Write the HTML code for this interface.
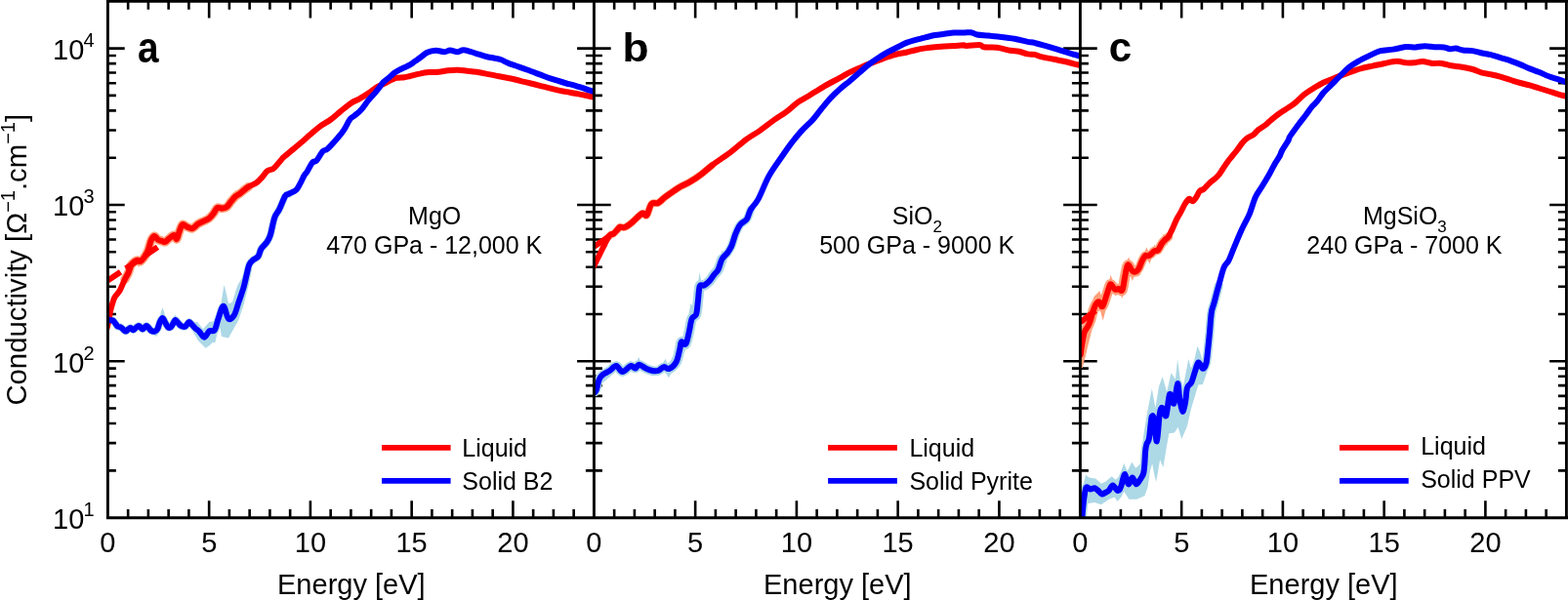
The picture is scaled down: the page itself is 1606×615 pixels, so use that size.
<!DOCTYPE html><html><head><meta charset="utf-8"><style>html,body{margin:0;padding:0;background:#fff;}svg{display:block;}</style></head><body>
<svg width="1606" height="615" viewBox="0 0 1606 615" font-family="&quot;Liberation Sans&quot;, Arial, Helvetica, sans-serif">
<rect width="1606" height="615" fill="#fff"/>
<defs>
<clipPath id="cp0"><rect x="110.4" y="1.3" width="498" height="529.3000000000001"/></clipPath>
<clipPath id="cp1"><rect x="608.4" y="1.3" width="498" height="529.3000000000001"/></clipPath>
<clipPath id="cp2"><rect x="1106.4" y="1.3" width="498" height="529.3000000000001"/></clipPath>
</defs>
<path d="M131.15,530.6 V522.10 M131.15,1.3 V9.80 M151.90,530.6 V522.10 M151.90,1.3 V9.80 M172.65,530.6 V522.10 M172.65,1.3 V9.80 M193.40,530.6 V522.10 M193.40,1.3 V9.80 M214.15,530.6 V513.30 M214.15,1.3 V18.60 M234.90,530.6 V522.10 M234.90,1.3 V9.80 M255.65,530.6 V522.10 M255.65,1.3 V9.80 M276.40,530.6 V522.10 M276.40,1.3 V9.80 M297.15,530.6 V522.10 M297.15,1.3 V9.80 M317.90,530.6 V513.30 M317.90,1.3 V18.60 M338.65,530.6 V522.10 M338.65,1.3 V9.80 M359.40,530.6 V522.10 M359.40,1.3 V9.80 M380.15,530.6 V522.10 M380.15,1.3 V9.80 M400.90,530.6 V522.10 M400.90,1.3 V9.80 M421.65,530.6 V513.30 M421.65,1.3 V18.60 M442.40,530.6 V522.10 M442.40,1.3 V9.80 M463.15,530.6 V522.10 M463.15,1.3 V9.80 M483.90,530.6 V522.10 M483.90,1.3 V9.80 M504.65,530.6 V522.10 M504.65,1.3 V9.80 M525.40,530.6 V513.30 M525.40,1.3 V18.60 M546.15,530.6 V522.10 M546.15,1.3 V9.80 M566.90,530.6 V522.10 M566.90,1.3 V9.80 M587.65,530.6 V522.10 M587.65,1.3 V9.80 M110.4,482.34 H118.90 M608.4,482.34 H599.90 M110.4,454.10 H118.90 M608.4,454.10 H599.90 M110.4,434.07 H118.90 M608.4,434.07 H599.90 M110.4,418.53 H118.90 M608.4,418.53 H599.90 M110.4,405.84 H118.90 M608.4,405.84 H599.90 M110.4,395.11 H118.90 M608.4,395.11 H599.90 M110.4,385.81 H118.90 M608.4,385.81 H599.90 M110.4,377.61 H118.90 M608.4,377.61 H599.90 M110.4,370.27 H127.70 M608.4,370.27 H591.10 M110.4,322.01 H118.90 M608.4,322.01 H599.90 M110.4,293.77 H118.90 M608.4,293.77 H599.90 M110.4,273.74 H118.90 M608.4,273.74 H599.90 M110.4,258.20 H118.90 M608.4,258.20 H599.90 M110.4,245.51 H118.90 M608.4,245.51 H599.90 M110.4,234.78 H118.90 M608.4,234.78 H599.90 M110.4,225.48 H118.90 M608.4,225.48 H599.90 M110.4,217.28 H118.90 M608.4,217.28 H599.90 M110.4,209.94 H127.70 M608.4,209.94 H591.10 M110.4,161.68 H118.90 M608.4,161.68 H599.90 M110.4,133.44 H118.90 M608.4,133.44 H599.90 M110.4,113.41 H118.90 M608.4,113.41 H599.90 M110.4,97.87 H118.90 M608.4,97.87 H599.90 M110.4,85.18 H118.90 M608.4,85.18 H599.90 M110.4,74.45 H118.90 M608.4,74.45 H599.90 M110.4,65.15 H118.90 M608.4,65.15 H599.90 M110.4,56.95 H118.90 M608.4,56.95 H599.90 M110.4,49.61 H127.70 M608.4,49.61 H591.10 M629.15,530.6 V522.10 M629.15,1.3 V9.80 M649.90,530.6 V522.10 M649.90,1.3 V9.80 M670.65,530.6 V522.10 M670.65,1.3 V9.80 M691.40,530.6 V522.10 M691.40,1.3 V9.80 M712.15,530.6 V513.30 M712.15,1.3 V18.60 M732.90,530.6 V522.10 M732.90,1.3 V9.80 M753.65,530.6 V522.10 M753.65,1.3 V9.80 M774.40,530.6 V522.10 M774.40,1.3 V9.80 M795.15,530.6 V522.10 M795.15,1.3 V9.80 M815.90,530.6 V513.30 M815.90,1.3 V18.60 M836.65,530.6 V522.10 M836.65,1.3 V9.80 M857.40,530.6 V522.10 M857.40,1.3 V9.80 M878.15,530.6 V522.10 M878.15,1.3 V9.80 M898.90,530.6 V522.10 M898.90,1.3 V9.80 M919.65,530.6 V513.30 M919.65,1.3 V18.60 M940.40,530.6 V522.10 M940.40,1.3 V9.80 M961.15,530.6 V522.10 M961.15,1.3 V9.80 M981.90,530.6 V522.10 M981.90,1.3 V9.80 M1002.65,530.6 V522.10 M1002.65,1.3 V9.80 M1023.40,530.6 V513.30 M1023.40,1.3 V18.60 M1044.15,530.6 V522.10 M1044.15,1.3 V9.80 M1064.90,530.6 V522.10 M1064.90,1.3 V9.80 M1085.65,530.6 V522.10 M1085.65,1.3 V9.80 M608.4,482.34 H616.90 M1106.4,482.34 H1097.90 M608.4,454.10 H616.90 M1106.4,454.10 H1097.90 M608.4,434.07 H616.90 M1106.4,434.07 H1097.90 M608.4,418.53 H616.90 M1106.4,418.53 H1097.90 M608.4,405.84 H616.90 M1106.4,405.84 H1097.90 M608.4,395.11 H616.90 M1106.4,395.11 H1097.90 M608.4,385.81 H616.90 M1106.4,385.81 H1097.90 M608.4,377.61 H616.90 M1106.4,377.61 H1097.90 M608.4,370.27 H625.70 M1106.4,370.27 H1089.10 M608.4,322.01 H616.90 M1106.4,322.01 H1097.90 M608.4,293.77 H616.90 M1106.4,293.77 H1097.90 M608.4,273.74 H616.90 M1106.4,273.74 H1097.90 M608.4,258.20 H616.90 M1106.4,258.20 H1097.90 M608.4,245.51 H616.90 M1106.4,245.51 H1097.90 M608.4,234.78 H616.90 M1106.4,234.78 H1097.90 M608.4,225.48 H616.90 M1106.4,225.48 H1097.90 M608.4,217.28 H616.90 M1106.4,217.28 H1097.90 M608.4,209.94 H625.70 M1106.4,209.94 H1089.10 M608.4,161.68 H616.90 M1106.4,161.68 H1097.90 M608.4,133.44 H616.90 M1106.4,133.44 H1097.90 M608.4,113.41 H616.90 M1106.4,113.41 H1097.90 M608.4,97.87 H616.90 M1106.4,97.87 H1097.90 M608.4,85.18 H616.90 M1106.4,85.18 H1097.90 M608.4,74.45 H616.90 M1106.4,74.45 H1097.90 M608.4,65.15 H616.90 M1106.4,65.15 H1097.90 M608.4,56.95 H616.90 M1106.4,56.95 H1097.90 M608.4,49.61 H625.70 M1106.4,49.61 H1089.10 M1127.15,530.6 V522.10 M1127.15,1.3 V9.80 M1147.90,530.6 V522.10 M1147.90,1.3 V9.80 M1168.65,530.6 V522.10 M1168.65,1.3 V9.80 M1189.40,530.6 V522.10 M1189.40,1.3 V9.80 M1210.15,530.6 V513.30 M1210.15,1.3 V18.60 M1230.90,530.6 V522.10 M1230.90,1.3 V9.80 M1251.65,530.6 V522.10 M1251.65,1.3 V9.80 M1272.40,530.6 V522.10 M1272.40,1.3 V9.80 M1293.15,530.6 V522.10 M1293.15,1.3 V9.80 M1313.90,530.6 V513.30 M1313.90,1.3 V18.60 M1334.65,530.6 V522.10 M1334.65,1.3 V9.80 M1355.40,530.6 V522.10 M1355.40,1.3 V9.80 M1376.15,530.6 V522.10 M1376.15,1.3 V9.80 M1396.90,530.6 V522.10 M1396.90,1.3 V9.80 M1417.65,530.6 V513.30 M1417.65,1.3 V18.60 M1438.40,530.6 V522.10 M1438.40,1.3 V9.80 M1459.15,530.6 V522.10 M1459.15,1.3 V9.80 M1479.90,530.6 V522.10 M1479.90,1.3 V9.80 M1500.65,530.6 V522.10 M1500.65,1.3 V9.80 M1521.40,530.6 V513.30 M1521.40,1.3 V18.60 M1542.15,530.6 V522.10 M1542.15,1.3 V9.80 M1562.90,530.6 V522.10 M1562.90,1.3 V9.80 M1583.65,530.6 V522.10 M1583.65,1.3 V9.80 M1106.4,482.34 H1114.90 M1604.4,482.34 H1595.90 M1106.4,454.10 H1114.90 M1604.4,454.10 H1595.90 M1106.4,434.07 H1114.90 M1604.4,434.07 H1595.90 M1106.4,418.53 H1114.90 M1604.4,418.53 H1595.90 M1106.4,405.84 H1114.90 M1604.4,405.84 H1595.90 M1106.4,395.11 H1114.90 M1604.4,395.11 H1595.90 M1106.4,385.81 H1114.90 M1604.4,385.81 H1595.90 M1106.4,377.61 H1114.90 M1604.4,377.61 H1595.90 M1106.4,370.27 H1123.70 M1604.4,370.27 H1587.10 M1106.4,322.01 H1114.90 M1604.4,322.01 H1595.90 M1106.4,293.77 H1114.90 M1604.4,293.77 H1595.90 M1106.4,273.74 H1114.90 M1604.4,273.74 H1595.90 M1106.4,258.20 H1114.90 M1604.4,258.20 H1595.90 M1106.4,245.51 H1114.90 M1604.4,245.51 H1595.90 M1106.4,234.78 H1114.90 M1604.4,234.78 H1595.90 M1106.4,225.48 H1114.90 M1604.4,225.48 H1595.90 M1106.4,217.28 H1114.90 M1604.4,217.28 H1595.90 M1106.4,209.94 H1123.70 M1604.4,209.94 H1587.10 M1106.4,161.68 H1114.90 M1604.4,161.68 H1595.90 M1106.4,133.44 H1114.90 M1604.4,133.44 H1595.90 M1106.4,113.41 H1114.90 M1604.4,113.41 H1595.90 M1106.4,97.87 H1114.90 M1604.4,97.87 H1595.90 M1106.4,85.18 H1114.90 M1604.4,85.18 H1595.90 M1106.4,74.45 H1114.90 M1604.4,74.45 H1595.90 M1106.4,65.15 H1114.90 M1604.4,65.15 H1595.90 M1106.4,56.95 H1114.90 M1604.4,56.95 H1595.90 M1106.4,49.61 H1123.70 M1604.4,49.61 H1587.10" stroke="#000" stroke-width="2.6" fill="none"/>
<g clip-path="url(#cp0)" fill="none" stroke-linejoin="round" stroke-linecap="round">
<path d="M110.5,327.0 C110.8,327.2 111.6,328.1 112.4,328.3 C113.2,328.5 114.5,327.9 115.3,328.3 C116.1,328.7 116.7,329.5 117.5,330.5 C118.3,331.5 119.4,333.7 120.4,334.5 C121.4,335.3 122.4,334.6 123.4,335.2 C124.4,335.8 125.4,337.1 126.3,337.8 C127.2,338.5 128.1,339.7 128.9,339.6 C129.8,339.5 130.6,338.0 131.4,337.4 C132.2,336.8 132.8,335.9 133.6,336.0 C134.4,336.1 135.5,338.3 136.5,338.2 C137.5,338.1 138.5,336.3 139.5,335.6 C140.5,334.9 141.3,333.8 142.4,334.1 C143.5,334.4 144.8,337.4 146.0,337.4 C147.2,337.4 148.7,334.4 149.7,334.1 C150.7,333.8 151.1,334.8 151.9,335.6 C152.8,336.4 153.7,338.2 154.8,338.9 C155.9,339.6 157.4,339.9 158.5,339.6 C159.6,339.3 160.6,338.6 161.4,337.1 C162.2,335.6 162.8,332.3 163.6,330.5 C164.4,328.7 165.5,326.0 166.5,326.1 C167.5,326.2 168.5,329.6 169.5,331.2 C170.5,332.8 171.4,335.0 172.4,335.6 C173.4,336.2 174.5,335.6 175.3,334.9 C176.2,334.2 176.8,332.4 177.5,331.2 C178.2,330.0 178.8,327.9 179.7,327.9 C180.5,327.9 181.6,330.2 182.6,331.2 C183.6,332.2 184.4,333.6 185.6,334.1 C186.8,334.7 188.6,335.2 189.9,334.5 C191.2,333.8 192.5,330.4 193.6,330.1 C194.7,329.8 195.4,331.6 196.5,332.7 C197.6,333.8 198.9,335.4 200.2,336.6 C201.5,337.8 202.6,338.3 204.1,339.8 C205.6,341.3 207.6,345.8 209.3,345.7 C211.0,345.6 212.8,340.4 214.5,339.2 C216.2,338.0 218.2,340.6 219.7,338.5 C221.2,336.4 222.1,330.9 223.6,326.8 C225.1,322.7 227.1,313.8 228.8,313.8 C230.5,313.8 232.2,325.3 234.0,326.8 C235.8,328.3 238.2,325.7 239.9,322.9 C241.6,320.1 242.8,314.7 244.4,309.9 C246.0,305.1 248.2,299.3 249.6,294.3 C251.0,289.3 252.0,283.9 253.0,280.0 C254.0,276.1 254.3,273.3 255.4,271.0 C256.5,268.7 258.0,267.6 259.5,266.2 C261.0,264.8 263.0,264.8 264.4,262.9 C265.8,261.0 266.1,257.2 267.6,254.8 C269.1,252.4 271.8,250.5 273.3,248.3 C274.8,246.1 275.7,244.5 276.6,241.8 C277.6,239.1 278.2,235.2 279.0,232.0 C279.8,228.8 280.3,225.3 281.5,222.3 C282.7,219.3 284.6,217.6 286.3,214.1 C288.1,210.6 290.4,203.7 292.0,201.1 C293.6,198.5 295.4,199.1 296.1,198.7" stroke="#add8e6" stroke-width="7.5"/>
<path d="M162.5,331.0 L164.8,320.0 L166.5,315.2 L168.2,320.0 L170.5,331.0 Z" fill="#add8e6" stroke="none"/>
<path d="M176.5,330.0 L178.2,324.5 L179.3,322.8 L180.6,324.5 L182.5,330.0 Z" fill="#add8e6" stroke="none"/>
<path d="M154.0,340.0 L160.0,345.0 L166.0,336.0 Z" fill="#add8e6" stroke="none"/>
<path d="M147.5,333.0 L150.0,330.0 L152.5,333.0 Z" fill="#add8e6" stroke="none"/>
<path d="M226.0,332.0 L229.0,338.0 L232.0,332.0 Z" fill="#add8e6" stroke="none"/>
<path d="M196.0,330.0 L198.9,330.1 L202.2,330.1 L208.0,337.2 L214.5,330.1 L218.4,329.4 L226.2,312.5 L229.5,291.7 L232.1,302.1 L234.0,311.2 L237.9,309.9 L243.1,293.0 L248.3,283.9 L252.0,272.0 L258.0,276.0 L254.8,291.7 L249.6,312.5 L244.4,328.1 L239.2,337.2 L234.0,346.4 L226.9,345.1 L225.6,336.0 L222.3,342.5 L220.4,350.9 L217.8,350.9 L214.5,354.2 L210.6,356.8 L202.8,349.0 L196.0,337.0 Z" fill="#add8e6" stroke="none"/>
<path d="M127.8,286.5 C128.4,285.4 130.2,282.5 131.3,280.0 C132.4,277.5 133.2,273.7 134.3,271.7 C135.5,269.7 137.1,268.6 138.2,267.8 C139.3,267.0 140.1,266.8 141.1,266.8 C142.1,266.8 142.7,268.6 144.0,267.8 C145.3,267.0 147.6,263.9 148.9,262.0 C150.2,260.1 150.8,258.7 151.8,256.1 C152.8,253.5 153.7,248.7 154.8,246.3 C155.9,244.0 157.1,242.2 158.2,242.0 C159.3,241.8 160.2,244.5 161.6,245.4 C163.0,246.3 165.2,246.9 166.5,247.3 C167.8,247.7 168.3,248.3 169.4,247.8 C170.5,247.3 171.8,245.5 173.3,244.4 C174.8,243.3 176.9,240.9 178.2,241.0 C179.5,241.1 180.1,245.5 181.0,245.0 C181.9,244.5 182.4,240.5 183.4,238.0 C184.4,235.5 185.5,231.0 186.8,230.1 C188.1,229.2 189.7,231.7 191.4,232.4 C193.1,233.1 195.2,234.6 197.1,234.1 C199.0,233.6 200.9,230.7 202.8,229.5 C204.7,228.3 206.6,227.6 208.5,226.7 C210.4,225.8 212.4,225.1 214.1,223.8 C215.8,222.5 217.3,220.5 218.7,218.7 C220.1,216.9 221.2,213.8 222.7,213.0 C224.2,212.2 226.2,213.8 227.8,213.6 C229.4,213.4 230.9,213.1 232.4,211.9 C233.9,210.7 235.4,208.0 236.9,206.2 C238.4,204.4 240.0,202.4 241.5,201.1 C243.0,199.8 244.6,199.2 246.0,198.2 C247.4,197.1 248.6,195.9 250.0,194.8 C251.4,193.7 253.8,192.0 254.6,191.4" stroke="#ffa07a" stroke-width="9.0"/>
<path d="M135.5,266.0 L138.2,262.4 L141.0,265.0 Z" fill="#ffa07a" stroke="none"/>
<path d="M139.0,270.0 L142.1,273.7 L145.0,270.0 Z" fill="#ffa07a" stroke="none"/>
<path d="M155.5,241.0 L158.2,238.0 L161.0,241.0 Z" fill="#ffa07a" stroke="none"/>
<path d="M163.5,245.0 L166.0,241.5 L168.5,245.0 Z" fill="#ffa07a" stroke="none"/>
<path d="M164.5,249.0 L167.4,252.7 L170.5,249.0 Z" fill="#ffa07a" stroke="none"/>
<path d="M178.0,246.0 L181.1,249.8 L184.0,246.0 Z" fill="#ffa07a" stroke="none"/>
<path d="M185.0,230.0 L187.9,225.4 L191.0,229.0 Z" fill="#ffa07a" stroke="none"/>
<path d="M192.5,235.0 L195.7,238.5 L199.0,234.0 Z" fill="#ffa07a" stroke="none"/>
<path d="M109.5,336.5 C109.8,335.1 110.8,331.4 111.5,328.0 C112.2,324.6 112.7,320.1 113.7,316.3 C114.7,312.5 115.8,308.1 117.3,305.1 C118.8,302.1 120.8,301.2 122.6,298.1 C124.3,295.0 126.3,289.5 127.8,286.5 C129.2,283.5 130.2,282.5 131.3,280.0 C132.4,277.5 133.2,273.7 134.3,271.7 C135.5,269.7 137.1,268.6 138.2,267.8 C139.3,267.0 140.1,266.8 141.1,266.8 C142.1,266.8 142.7,268.6 144.0,267.8 C145.3,267.0 147.6,263.9 148.9,262.0 C150.2,260.1 150.8,258.7 151.8,256.1 C152.8,253.5 153.7,248.7 154.8,246.3 C155.9,244.0 157.1,242.2 158.2,242.0 C159.3,241.8 160.2,244.5 161.6,245.4 C163.0,246.3 165.2,246.9 166.5,247.3 C167.8,247.7 168.3,248.3 169.4,247.8 C170.5,247.3 171.8,245.5 173.3,244.4 C174.8,243.3 176.9,240.9 178.2,241.0 C179.5,241.1 180.1,245.5 181.0,245.0 C181.9,244.5 182.4,240.5 183.4,238.0 C184.4,235.5 185.5,231.0 186.8,230.1 C188.1,229.2 189.7,231.7 191.4,232.4 C193.1,233.1 195.2,234.6 197.1,234.1 C199.0,233.6 200.9,230.7 202.8,229.5 C204.7,228.3 206.6,227.6 208.5,226.7 C210.4,225.8 212.4,225.1 214.1,223.8 C215.8,222.5 217.3,220.5 218.7,218.7 C220.1,216.9 221.2,213.8 222.7,213.0 C224.2,212.2 226.2,213.8 227.8,213.6 C229.4,213.4 230.9,213.1 232.4,211.9 C233.9,210.7 235.4,208.0 236.9,206.2 C238.4,204.4 240.0,202.4 241.5,201.1 C243.0,199.8 244.6,199.2 246.0,198.2 C247.4,197.1 248.6,195.9 250.0,194.8 C251.4,193.7 252.5,192.7 254.6,191.4 C256.7,190.2 260.5,188.9 262.8,187.3 C265.1,185.7 266.6,183.6 268.5,181.6 C270.4,179.6 272.0,176.5 273.9,175.1 C275.8,173.7 278.1,174.0 279.8,172.9 C281.5,171.8 282.7,170.1 284.1,168.5 C285.6,166.9 287.5,164.6 288.5,163.4 C289.5,162.2 288.1,163.2 290.0,161.5 C291.9,159.8 296.6,156.1 299.8,153.4 C303.1,150.7 306.5,147.9 309.5,145.3 C312.5,142.7 314.6,140.6 317.6,138.0 C320.6,135.4 323.9,132.4 327.4,129.8 C330.9,127.2 335.3,125.1 338.8,122.5 C342.3,119.9 345.0,117.2 348.5,114.4 C352.0,111.6 356.6,107.6 359.9,105.4 C363.1,103.2 364.6,103.3 368.0,101.4 C371.4,99.5 376.9,95.9 380.0,93.8 C383.1,91.7 384.5,90.3 386.8,88.9 C389.1,87.5 391.4,86.6 393.7,85.5 C396.0,84.4 398.4,83.0 400.5,82.1 C402.6,81.1 403.9,80.3 406.2,79.8 C408.5,79.3 411.8,79.5 414.1,79.2 C416.4,78.9 417.4,78.6 420.0,78.0 C422.6,77.4 426.6,76.2 429.8,75.6 C433.1,74.9 436.2,74.4 439.5,74.1 C442.8,73.8 446.1,74.0 449.3,73.7 C452.6,73.4 455.8,72.5 459.0,72.2 C462.2,71.9 465.6,71.6 468.8,71.7 C472.1,71.8 475.2,72.4 478.5,72.7 C481.8,73.0 485.1,73.2 488.3,73.7 C491.6,74.2 494.8,74.9 498.0,75.6 C501.2,76.2 504.7,77.0 507.8,77.6 C510.9,78.2 513.5,78.7 516.5,79.3 C519.5,79.9 522.5,80.3 525.5,81.0 C528.5,81.7 531.6,82.5 534.6,83.3 C537.6,84.0 540.7,84.8 543.7,85.5 C546.8,86.2 549.9,87.0 552.9,87.8 C555.9,88.6 559.0,89.3 562.0,90.1 C565.0,90.9 568.1,91.7 571.1,92.4 C574.1,93.1 577.2,93.5 580.2,94.1 C583.2,94.7 586.3,95.2 589.3,95.8 C592.3,96.4 595.5,96.9 598.4,97.5 C601.2,98.1 604.6,98.8 606.4,99.2 C608.2,99.7 608.6,100.0 609.0,100.2" stroke="#ff0000" stroke-width="6.0"/>
<path d="M110.4,287.6 L161.6,253.1" stroke="#ff0000" stroke-width="6.0" stroke-dasharray="16.5 6.4" stroke-dashoffset="0.7" stroke-linecap="butt"/>
<path d="M110.5,327.0 C110.8,327.2 111.6,328.1 112.4,328.3 C113.2,328.5 114.5,327.9 115.3,328.3 C116.1,328.7 116.7,329.5 117.5,330.5 C118.3,331.5 119.4,333.7 120.4,334.5 C121.4,335.3 122.4,334.6 123.4,335.2 C124.4,335.8 125.4,337.1 126.3,337.8 C127.2,338.5 128.1,339.7 128.9,339.6 C129.8,339.5 130.6,338.0 131.4,337.4 C132.2,336.8 132.8,335.9 133.6,336.0 C134.4,336.1 135.5,338.3 136.5,338.2 C137.5,338.1 138.5,336.3 139.5,335.6 C140.5,334.9 141.3,333.8 142.4,334.1 C143.5,334.4 144.8,337.4 146.0,337.4 C147.2,337.4 148.7,334.4 149.7,334.1 C150.7,333.8 151.1,334.8 151.9,335.6 C152.8,336.4 153.7,338.2 154.8,338.9 C155.9,339.6 157.4,339.9 158.5,339.6 C159.6,339.3 160.6,338.6 161.4,337.1 C162.2,335.6 162.8,332.3 163.6,330.5 C164.4,328.7 165.5,326.0 166.5,326.1 C167.5,326.2 168.5,329.6 169.5,331.2 C170.5,332.8 171.4,335.0 172.4,335.6 C173.4,336.2 174.5,335.6 175.3,334.9 C176.2,334.2 176.8,332.4 177.5,331.2 C178.2,330.0 178.8,327.9 179.7,327.9 C180.5,327.9 181.6,330.2 182.6,331.2 C183.6,332.2 184.4,333.6 185.6,334.1 C186.8,334.7 188.6,335.2 189.9,334.5 C191.2,333.8 192.5,330.4 193.6,330.1 C194.7,329.8 195.4,331.6 196.5,332.7 C197.6,333.8 198.9,335.4 200.2,336.6 C201.5,337.8 202.6,338.3 204.1,339.8 C205.6,341.3 207.6,345.8 209.3,345.7 C211.0,345.6 212.8,340.4 214.5,339.2 C216.2,338.0 218.2,340.6 219.7,338.5 C221.2,336.4 222.1,330.9 223.6,326.8 C225.1,322.7 227.1,313.8 228.8,313.8 C230.5,313.8 232.2,325.3 234.0,326.8 C235.8,328.3 238.2,325.7 239.9,322.9 C241.6,320.1 242.8,314.7 244.4,309.9 C246.0,305.1 248.2,299.3 249.6,294.3 C251.0,289.3 252.0,283.9 253.0,280.0 C254.0,276.1 254.3,273.3 255.4,271.0 C256.5,268.7 258.0,267.6 259.5,266.2 C261.0,264.8 263.0,264.8 264.4,262.9 C265.8,261.0 266.1,257.2 267.6,254.8 C269.1,252.4 271.8,250.5 273.3,248.3 C274.8,246.1 275.7,244.5 276.6,241.8 C277.6,239.1 278.2,235.2 279.0,232.0 C279.8,228.8 280.3,225.3 281.5,222.3 C282.7,219.3 284.6,217.6 286.3,214.1 C288.1,210.6 290.4,203.7 292.0,201.1 C293.6,198.5 294.2,199.8 296.1,198.7 C298.0,197.6 301.5,196.4 303.4,194.6 C305.3,192.8 306.1,190.5 307.5,188.1 C308.9,185.7 310.4,182.0 311.5,180.0 C312.6,178.0 313.0,178.5 314.4,176.2 C315.8,173.9 318.5,168.3 320.1,166.4 C321.7,164.5 322.3,166.7 324.1,164.8 C325.9,162.9 328.8,157.0 330.7,155.0 C332.6,153.0 333.1,154.8 335.5,152.6 C337.9,150.4 342.6,145.1 345.3,142.0 C348.0,138.9 349.6,137.2 351.8,133.9 C354.0,130.7 356.4,125.1 358.3,122.5 C360.2,119.9 361.3,120.1 363.2,118.5 C365.1,116.9 367.3,115.5 369.7,112.8 C372.1,110.1 375.3,105.2 377.8,102.2 C380.3,99.2 382.7,96.8 384.6,94.6 C386.5,92.4 387.8,90.6 389.1,88.9 C390.4,87.2 391.0,85.9 392.5,84.4 C394.0,82.9 396.3,81.4 398.2,79.8 C400.1,78.2 402.0,76.1 403.9,74.7 C405.8,73.3 407.9,72.2 409.6,71.3 C411.3,70.4 412.4,70.0 414.1,69.2 C415.8,68.4 418.1,67.5 420.0,66.4 C421.9,65.3 423.7,63.8 425.3,62.6 C426.9,61.5 427.8,61.0 429.8,59.5 C431.9,58.0 434.9,55.0 437.6,53.7 C440.4,52.4 443.4,51.8 446.3,51.7 C449.2,51.6 452.7,53.2 455.1,53.2 C457.6,53.2 458.7,51.6 461.0,51.6 C463.3,51.6 466.5,53.3 468.8,53.2 C471.1,53.1 472.3,51.2 474.6,51.2 C476.9,51.2 479.8,52.5 482.4,53.2 C485.0,53.9 487.6,54.8 490.2,55.6 C492.8,56.4 495.4,57.4 498.0,58.0 C500.6,58.6 503.4,59.0 505.9,59.5 C508.3,60.0 510.4,60.2 512.7,61.0 C515.1,61.8 517.5,63.4 520.0,64.4 C522.5,65.5 525.4,66.4 527.8,67.3 C530.2,68.2 532.0,68.6 534.6,69.6 C537.2,70.5 540.7,71.9 543.7,73.0 C546.8,74.1 549.9,75.3 552.9,76.4 C555.9,77.5 559.0,78.8 562.0,79.8 C565.0,80.8 568.1,81.8 571.1,82.7 C574.1,83.7 577.2,84.7 580.2,85.5 C583.2,86.3 586.3,86.9 589.3,87.8 C592.3,88.7 595.5,89.8 598.4,90.7 C601.2,91.7 604.6,92.9 606.4,93.5 C608.2,94.1 608.6,94.1 609.0,94.2" stroke="#0000ff" stroke-width="6.0"/>
</g>
<g clip-path="url(#cp1)" fill="none" stroke-linejoin="round" stroke-linecap="round">
<path d="M609.5,402.0 C609.8,401.4 610.5,400.7 611.2,398.5 C611.9,396.3 612.6,391.2 613.7,388.8 C614.8,386.4 615.8,385.4 617.6,383.9 C619.4,382.4 622.1,381.5 624.4,380.0 C626.7,378.5 629.0,374.9 631.2,375.1 C633.4,375.3 635.2,381.0 637.6,381.0 C640.0,381.0 643.7,375.7 645.9,375.1 C648.1,374.5 649.2,377.8 650.7,377.6 C652.2,377.4 652.8,373.7 654.6,373.7 C656.4,373.7 659.2,376.6 661.5,377.6 C663.8,378.7 666.2,379.6 668.3,380.0 C670.4,380.4 672.1,380.6 674.1,380.0 C676.1,379.4 678.1,376.4 680.0,376.1 C681.9,375.8 683.3,378.8 685.4,378.0 C687.5,377.2 690.7,374.5 692.5,371.3 C694.3,368.1 695.2,362.3 696.1,358.8 C697.0,355.3 696.9,351.6 697.9,350.5 C698.9,349.4 701.0,354.4 702.4,352.5 C703.8,350.6 705.0,343.4 706.0,339.1 C707.0,334.8 707.5,329.4 708.7,326.6 C709.9,323.8 712.1,325.1 713.1,322.1 C714.1,319.1 714.3,313.5 714.9,308.7 C715.5,303.9 715.7,296.1 716.7,293.4 C717.8,290.7 719.6,293.4 721.2,292.5 C722.9,291.6 725.0,289.9 726.6,288.1 C728.2,286.4 729.5,284.0 731.0,282.0 C732.5,280.0 734.2,279.0 735.6,276.3 C737.0,273.6 737.9,268.5 739.5,265.6 C741.1,262.7 743.8,261.1 745.4,258.8 C747.0,256.5 748.0,255.1 749.3,252.0 C750.6,248.9 751.8,243.8 753.2,240.2 C754.7,236.6 756.0,233.1 758.0,230.5 C760.0,227.9 763.1,227.2 764.9,224.6 C766.7,222.0 768.1,216.5 768.8,214.9" stroke="#add8e6" stroke-width="8.5"/>
<path d="M613.7,388.8 C614.4,388.0 615.8,385.4 617.6,383.9 C619.4,382.4 622.1,381.5 624.4,380.0 C626.7,378.5 629.0,374.9 631.2,375.1 C633.4,375.3 635.2,381.0 637.6,381.0 C640.0,381.0 643.7,375.7 645.9,375.1 C648.1,374.5 649.2,377.8 650.7,377.6 C652.2,377.4 652.8,373.7 654.6,373.7 C656.4,373.7 659.2,376.6 661.5,377.6 C663.8,378.7 666.2,379.6 668.3,380.0 C670.4,380.4 672.1,380.6 674.1,380.0 C676.1,379.4 678.1,376.4 680.0,376.1 C681.9,375.8 683.3,378.8 685.4,378.0 C687.5,377.2 690.7,374.5 692.5,371.3 C694.3,368.1 695.2,362.3 696.1,358.8 C697.0,355.3 697.6,351.9 697.9,350.5" stroke="#add8e6" stroke-width="9.5"/>
<path d="M685.4,378.0 C686.6,376.9 690.7,374.5 692.5,371.3 C694.3,368.1 695.2,362.3 696.1,358.8 C697.0,355.3 696.9,351.6 697.9,350.5 C698.9,349.4 701.0,354.4 702.4,352.5 C703.8,350.6 705.0,343.4 706.0,339.1 C707.0,334.8 707.5,329.4 708.7,326.6 C709.9,323.8 712.1,325.1 713.1,322.1 C714.1,319.1 714.3,313.5 714.9,308.7 C715.5,303.9 715.7,296.1 716.7,293.4 C717.8,290.7 719.6,293.4 721.2,292.5 C722.9,291.6 725.0,289.9 726.6,288.1 C728.2,286.4 729.5,284.0 731.0,282.0 C732.5,280.0 734.2,279.0 735.6,276.3 C737.0,273.6 738.9,267.4 739.5,265.6" stroke="#add8e6" stroke-width="10.5"/>
<path d="M627.0,376.0 L631.2,370.5 L635.0,377.0 Z" fill="#add8e6" stroke="none"/>
<path d="M642.0,377.0 L645.9,369.5 L649.0,376.0 Z" fill="#add8e6" stroke="none"/>
<path d="M651.0,374.0 L654.1,365.8 L657.5,374.0 Z" fill="#add8e6" stroke="none"/>
<path d="M678.0,374.0 L681.5,367.8 L684.5,375.0 Z" fill="#add8e6" stroke="none"/>
<path d="M686.0,372.0 L688.8,365.8 L691.5,371.0 Z" fill="#add8e6" stroke="none"/>
<path d="M613.0,392.0 L617.6,392.2 L625.0,386.0 L630.0,378.0 Z" fill="#add8e6" stroke="none"/>
<path d="M633.0,381.0 L638.0,384.0 L643.0,379.0 Z" fill="#add8e6" stroke="none"/>
<path d="M660.0,381.0 L668.3,385.4 L676.0,383.0 Z" fill="#add8e6" stroke="none"/>
<path d="M681.0,381.0 L684.9,387.3 L689.0,380.0 Z" fill="#add8e6" stroke="none"/>
<path d="M696.0,350.0 L701.4,361.0 L705.0,345.0 Z" fill="#add8e6" stroke="none"/>
<path d="M704.0,330.0 L707.5,311.0 L712.0,318.0 Z" fill="#add8e6" stroke="none"/>
<path d="M714.0,296.0 L716.6,279.0 L719.0,292.0 Z" fill="#add8e6" stroke="none"/>
<path d="M736.0,268.0 L739.7,256.5 L743.0,262.0 Z" fill="#add8e6" stroke="none"/>
<path d="M623.0,243.2 C623.4,242.8 624.6,241.1 625.5,240.5 C626.4,239.9 627.4,240.3 628.5,239.5 C629.6,238.7 631.1,236.7 632.2,235.6 C633.3,234.5 633.8,233.1 635.1,232.7 C636.4,232.3 637.9,233.8 640.0,233.0 C642.1,232.2 644.9,230.0 647.8,227.6 C650.7,225.2 655.2,220.0 657.6,218.8 C660.0,217.7 660.8,222.3 662.4,220.7 C664.0,219.1 665.3,211.1 667.3,209.0 C669.2,206.9 671.8,209.1 674.1,208.0 C676.4,206.9 678.2,204.3 681.0,202.2 C683.8,200.1 688.1,197.2 690.7,195.4 C693.3,193.6 694.0,193.0 696.6,191.5 C699.2,190.0 702.7,188.7 706.3,186.6 C709.9,184.5 714.2,181.7 718.0,178.8 C721.8,176.0 727.4,171.1 729.3,169.5" stroke="#ffa07a" stroke-width="7.5"/>
<path d="M606.5,275.6 C606.9,275.0 607.8,273.6 608.7,271.8 C609.7,270.0 611.0,267.0 612.2,264.6 C613.4,262.2 614.6,259.9 615.8,257.5 C617.0,255.1 618.2,252.7 619.4,250.3 C620.6,247.9 622.0,244.8 623.0,243.2 C624.0,241.6 624.6,241.1 625.5,240.5 C626.4,239.9 627.4,240.3 628.5,239.5 C629.6,238.7 631.1,236.7 632.2,235.6 C633.3,234.5 633.8,233.1 635.1,232.7 C636.4,232.3 637.9,233.8 640.0,233.0 C642.1,232.2 644.9,230.0 647.8,227.6 C650.7,225.2 655.2,220.0 657.6,218.8 C660.0,217.7 660.8,222.3 662.4,220.7 C664.0,219.1 665.3,211.1 667.3,209.0 C669.2,206.9 671.8,209.1 674.1,208.0 C676.4,206.9 678.2,204.3 681.0,202.2 C683.8,200.1 688.1,197.2 690.7,195.4 C693.3,193.6 694.0,193.0 696.6,191.5 C699.2,190.0 702.7,188.7 706.3,186.6 C709.9,184.5 714.2,181.7 718.0,178.8 C721.8,176.0 724.2,173.4 729.3,169.5 C734.4,165.6 742.9,160.0 748.8,155.6 C754.6,151.2 759.5,146.5 764.4,142.9 C769.3,139.3 773.1,137.5 778.0,134.1 C782.9,130.7 789.1,125.7 793.7,122.4 C798.3,119.2 801.5,117.5 805.4,114.6 C809.3,111.7 813.2,107.7 817.1,104.9 C821.0,102.1 824.2,100.8 828.8,98.0 C833.3,95.2 839.2,91.3 844.4,88.3 C849.6,85.3 855.8,82.2 860.0,79.9 C864.2,77.6 866.5,76.0 869.8,74.4 C873.0,72.8 876.2,71.5 879.5,70.1 C882.8,68.7 886.0,67.2 889.3,65.9 C892.5,64.6 895.8,63.4 899.0,62.2 C902.2,61.0 905.5,59.6 908.8,58.5 C912.0,57.4 915.2,56.3 918.5,55.5 C921.8,54.7 925.0,54.4 928.3,53.7 C931.5,53.0 934.8,51.9 938.0,51.2 C941.2,50.5 944.5,49.9 947.8,49.4 C951.1,48.9 954.4,48.5 957.6,48.2 C960.9,47.9 964.0,47.8 967.3,47.6 C970.5,47.4 973.9,47.2 977.1,47.0 C980.4,46.8 984.6,46.3 986.8,46.3 C988.9,46.3 987.2,46.9 990.0,46.9 C992.8,46.9 1000.4,45.8 1003.4,46.0 C1006.4,46.2 1004.9,47.8 1007.9,48.3 C1010.9,48.8 1016.8,48.1 1021.3,48.7 C1025.8,49.3 1031.0,51.1 1034.7,51.8 C1038.4,52.5 1040.7,52.1 1043.7,52.7 C1046.7,53.3 1049.9,54.9 1052.6,55.4 C1055.3,55.9 1057.6,55.4 1059.8,55.9 C1062.0,56.4 1062.7,57.3 1066.0,58.1 C1069.3,58.9 1074.9,59.9 1079.4,60.8 C1083.9,61.7 1088.7,62.5 1092.9,63.5 C1097.1,64.5 1102.2,66.0 1104.5,66.6 C1106.8,67.1 1106.6,66.8 1107.0,66.8" stroke="#ff0000" stroke-width="6.0"/>
<path d="M608.4,252.8 L624.0,242.2" stroke="#ff0000" stroke-width="6.0" stroke-linecap="butt"/>
<path d="M609.5,402.0 C609.8,401.4 610.5,400.7 611.2,398.5 C611.9,396.3 612.6,391.2 613.7,388.8 C614.8,386.4 615.8,385.4 617.6,383.9 C619.4,382.4 622.1,381.5 624.4,380.0 C626.7,378.5 629.0,374.9 631.2,375.1 C633.4,375.3 635.2,381.0 637.6,381.0 C640.0,381.0 643.7,375.7 645.9,375.1 C648.1,374.5 649.2,377.8 650.7,377.6 C652.2,377.4 652.8,373.7 654.6,373.7 C656.4,373.7 659.2,376.6 661.5,377.6 C663.8,378.7 666.2,379.6 668.3,380.0 C670.4,380.4 672.1,380.6 674.1,380.0 C676.1,379.4 678.1,376.4 680.0,376.1 C681.9,375.8 683.3,378.8 685.4,378.0 C687.5,377.2 690.7,374.5 692.5,371.3 C694.3,368.1 695.2,362.3 696.1,358.8 C697.0,355.3 696.9,351.6 697.9,350.5 C698.9,349.4 701.0,354.4 702.4,352.5 C703.8,350.6 705.0,343.4 706.0,339.1 C707.0,334.8 707.5,329.4 708.7,326.6 C709.9,323.8 712.1,325.1 713.1,322.1 C714.1,319.1 714.3,313.5 714.9,308.7 C715.5,303.9 715.7,296.1 716.7,293.4 C717.8,290.7 719.6,293.4 721.2,292.5 C722.9,291.6 725.0,289.9 726.6,288.1 C728.2,286.4 729.5,284.0 731.0,282.0 C732.5,280.0 734.2,279.0 735.6,276.3 C737.0,273.6 737.9,268.5 739.5,265.6 C741.1,262.7 743.8,261.1 745.4,258.8 C747.0,256.5 748.0,255.1 749.3,252.0 C750.6,248.9 751.8,243.8 753.2,240.2 C754.7,236.6 756.0,233.1 758.0,230.5 C760.0,227.9 763.1,227.2 764.9,224.6 C766.7,222.0 766.8,218.3 768.8,214.9 C770.8,211.5 773.4,209.9 776.6,204.1 C779.8,198.3 783.6,187.4 787.8,180.0 C791.9,172.6 797.6,165.2 801.5,159.5 C805.4,153.8 808.0,150.1 811.2,145.9 C814.5,141.7 817.4,138.0 821.0,134.1 C824.6,130.2 829.5,126.0 832.7,122.4 C836.0,118.8 837.6,116.3 840.5,112.7 C843.4,109.1 847.0,104.5 850.2,101.0 C853.5,97.5 856.7,94.4 860.0,91.5 C863.3,88.6 866.5,86.2 869.8,83.5 C873.0,80.8 876.2,77.8 879.5,75.0 C882.8,72.2 886.0,69.0 889.3,66.5 C892.5,64.0 895.8,61.9 899.0,59.8 C902.2,57.7 905.5,55.5 908.8,53.7 C912.0,51.9 915.2,50.4 918.5,48.8 C921.8,47.2 925.0,45.2 928.3,43.9 C931.5,42.6 934.8,41.8 938.0,40.9 C941.2,40.0 944.5,39.2 947.8,38.4 C951.1,37.6 954.4,36.6 957.6,36.0 C960.9,35.4 964.0,35.2 967.3,34.8 C970.5,34.4 973.9,33.7 977.1,33.5 C980.4,33.3 983.9,33.5 986.8,33.5 C989.7,33.5 992.2,32.9 994.5,33.2 C996.8,33.5 997.7,34.9 1000.7,35.5 C1003.7,36.1 1008.2,36.2 1012.4,36.6 C1016.6,37.0 1021.3,37.5 1025.8,38.0 C1030.3,38.5 1034.7,39.0 1039.2,39.8 C1043.7,40.6 1049.5,42.3 1052.6,42.9 C1055.7,43.5 1055.0,42.8 1058.0,43.5 C1061.0,44.2 1066.2,45.7 1070.5,46.9 C1074.8,48.1 1079.4,49.5 1083.9,50.9 C1088.4,52.3 1093.9,54.1 1097.3,55.1 C1100.7,56.1 1102.9,56.6 1104.5,57.0 C1106.1,57.4 1106.6,57.5 1107.0,57.6" stroke="#0000ff" stroke-width="6.0"/>
</g>
<g clip-path="url(#cp2)" fill="none" stroke-linejoin="round" stroke-linecap="round">
<path d="M1108.2,531.0 C1108.3,530.4 1108.2,531.0 1108.6,527.6 C1108.9,524.2 1109.6,515.1 1110.3,510.5 C1111.0,505.9 1111.5,501.2 1112.5,499.7 C1113.5,498.2 1115.1,501.3 1116.5,501.4 C1117.9,501.5 1119.8,500.1 1121.1,500.3 C1122.4,500.5 1123.3,501.6 1124.5,502.6 C1125.7,503.6 1127.2,506.1 1128.5,506.5 C1129.8,506.9 1131.2,505.4 1132.4,504.8 C1133.6,504.2 1134.7,503.8 1135.9,502.6 C1137.1,501.4 1138.3,497.3 1139.8,497.4 C1141.3,497.5 1143.6,503.0 1145.0,503.1 C1146.4,503.2 1147.3,500.8 1148.4,498.0 C1149.5,495.2 1150.6,486.4 1151.8,486.1 C1153.0,485.8 1154.5,495.7 1155.8,496.3 C1157.1,496.9 1158.5,489.5 1159.8,489.5 C1161.1,489.5 1162.4,495.9 1163.7,496.3 C1165.0,496.7 1166.5,493.5 1167.7,491.7 C1168.9,489.9 1170.3,488.1 1171.1,485.5 C1171.9,482.9 1171.9,480.3 1172.3,476.4 C1172.7,472.5 1172.8,465.6 1173.2,462.0 C1173.6,458.4 1173.9,457.0 1174.5,455.0 C1175.1,453.0 1176.1,453.4 1176.8,450.2 C1177.5,447.0 1178.0,439.9 1178.5,436.0 C1179.0,432.1 1179.2,427.8 1179.8,426.8 C1180.4,425.8 1181.2,425.5 1182.0,429.8 C1182.8,434.1 1183.9,453.4 1184.9,452.4 C1185.9,451.4 1186.8,429.6 1187.8,423.9 C1188.8,418.2 1189.6,417.6 1190.7,418.0 C1191.8,418.4 1193.2,428.4 1194.4,426.1 C1195.6,423.8 1196.7,406.2 1198.0,404.1 C1199.3,402.0 1201.1,415.5 1202.4,413.7 C1203.8,411.9 1205.1,393.9 1206.1,393.2 C1207.1,392.5 1207.4,404.6 1208.3,409.3 C1209.2,414.1 1210.2,421.2 1211.2,421.7 C1212.2,422.2 1213.3,416.2 1214.1,412.2 C1214.9,408.2 1215.0,400.9 1216.0,397.5 C1217.0,394.1 1218.9,394.8 1220.2,392.1 C1221.5,389.4 1222.6,384.7 1223.8,381.3 C1225.0,377.9 1226.1,372.1 1227.4,371.5 C1228.8,370.9 1230.6,377.7 1231.9,377.8 C1233.2,377.9 1234.5,375.7 1235.4,372.4 C1236.3,369.1 1236.6,363.5 1237.2,358.1 C1237.8,352.7 1238.4,346.5 1239.0,340.2 C1239.6,333.9 1240.0,325.3 1240.8,320.4 C1241.5,315.5 1242.3,315.2 1243.5,310.6 C1244.7,306.0 1247.4,295.8 1248.2,292.8" stroke="#add8e6" stroke-width="9.0"/>
<path d="M1107.0,526.0 L1109.1,499.1 L1112.0,486.6 L1115.4,489.5 L1122.2,490.6 L1127.9,495.7 L1131.9,494.0 L1138.7,488.3 L1142.7,491.7 L1146.7,487.8 L1151.2,474.7 L1154.6,483.2 L1159.2,473.5 L1163.2,479.8 L1167.7,475.8 L1169.4,465.0 L1171.0,448.0 L1174.6,425.4 L1179.8,398.3 L1183.4,418.0 L1187.0,396.0 L1190.7,385.9 L1195.1,402.0 L1199.5,382.2 L1203.9,388.8 L1206.1,368.3 L1209.0,390.0 L1211.5,398.0 L1214.0,385.0 L1217.3,368.0 L1220.0,378.0 L1222.5,372.0 L1226.6,354.4 L1229.5,362.0 L1232.0,370.0 L1234.5,362.0 L1237.0,348.0 L1239.0,332.0 L1241.0,315.0 L1244.0,305.0 L1247.0,296.0 L1249.0,300.0 L1244.0,320.0 L1241.5,345.0 L1239.5,370.0 L1236.3,381.3 L1231.9,393.9 L1227.3,394.6 L1222.9,409.3 L1219.7,420.0 L1216.0,436.8 L1210.3,449.9 L1206.6,437.8 L1202.9,443.4 L1197.3,444.3 L1194.6,459.5 L1191.4,479.0 L1188.1,471.2 L1184.2,494.0 L1182.5,487.8 L1180.2,475.2 L1178.0,482.1 L1175.7,499.1 L1172.3,508.2 L1164.3,511.7 L1156.3,511.7 L1151.2,503.7 L1148.4,509.4 L1144.4,513.9 L1141.6,509.4 L1135.9,511.7 L1127.9,517.3 L1121.1,515.1 L1113.1,516.2 L1108.6,530.0 Z" fill="#add8e6" stroke="none"/>
<path d="M1106.8,363.5 C1107.0,361.8 1107.7,356.1 1108.2,353.0 C1108.7,349.9 1109.1,347.2 1109.6,345.0 C1110.1,342.8 1110.2,341.6 1111.0,339.7 C1111.8,337.8 1113.6,335.8 1114.6,333.9 C1115.6,331.9 1116.3,330.2 1117.0,328.0 C1117.7,325.8 1118.3,322.9 1119.0,320.7 C1119.7,318.5 1120.3,316.7 1121.0,315.0 C1121.7,313.3 1122.6,311.4 1123.4,310.5 C1124.2,309.6 1125.0,308.9 1126.0,309.5 C1127.0,310.1 1128.0,315.3 1129.2,314.1 C1130.4,312.9 1132.2,306.0 1133.4,302.5 C1134.6,299.0 1135.7,294.7 1136.5,292.9 C1137.3,291.1 1137.1,290.9 1138.0,291.5 C1138.9,292.1 1140.8,295.9 1142.1,296.7 C1143.4,297.4 1144.5,295.9 1145.7,296.0 C1146.9,296.1 1148.4,299.3 1149.4,297.4 C1150.5,295.5 1151.2,288.7 1152.0,284.6 C1152.8,280.5 1153.7,275.0 1154.4,272.9 C1155.1,270.8 1155.4,271.2 1156.3,272.0 C1157.2,272.8 1158.6,276.8 1159.8,277.8 C1161.0,278.9 1163.0,278.2 1163.7,278.3" stroke="#ffa07a" stroke-width="10.5"/>
<path d="M1163.7,278.3 C1164.2,277.7 1165.6,276.6 1166.6,274.9 C1167.6,273.2 1168.5,270.1 1169.5,268.0 C1170.5,265.9 1171.8,263.2 1172.9,262.2 C1174.0,261.2 1175.2,262.5 1176.3,262.2 C1177.4,261.9 1178.3,261.0 1179.3,260.2 C1180.3,259.4 1181.1,257.9 1182.2,257.3 C1183.3,256.7 1184.8,257.6 1186.1,256.3 C1187.4,255.0 1188.8,251.3 1190.0,249.5 C1191.2,247.7 1192.3,246.7 1193.4,245.6 C1194.5,244.5 1196.2,243.2 1196.8,242.7" stroke="#ffa07a" stroke-width="9.0"/>
<path d="M1121.5,310.0 L1126.0,298.0 L1130.0,308.0 Z" fill="#ffa07a" stroke="none"/>
<path d="M1126.5,316.0 L1129.6,328.7 L1133.0,316.0 Z" fill="#ffa07a" stroke="none"/>
<path d="M1134.5,294.0 L1137.7,281.6 L1141.0,293.0 Z" fill="#ffa07a" stroke="none"/>
<path d="M1139.5,298.0 L1142.8,303.8 L1146.0,298.0 Z" fill="#ffa07a" stroke="none"/>
<path d="M1146.5,299.0 L1149.4,306.0 L1152.0,296.0 Z" fill="#ffa07a" stroke="none"/>
<path d="M1153.0,272.0 L1156.1,263.2 L1159.0,272.0 Z" fill="#ffa07a" stroke="none"/>
<path d="M1157.0,280.0 L1159.8,288.1 L1163.0,280.0 Z" fill="#ffa07a" stroke="none"/>
<path d="M1171.5,261.0 L1174.4,253.4 L1177.5,261.0 Z" fill="#ffa07a" stroke="none"/>
<path d="M1175.0,265.0 L1177.3,270.5 L1180.0,264.0 Z" fill="#ffa07a" stroke="none"/>
<path d="M1180.0,257.0 L1182.7,250.5 L1185.5,257.0 Z" fill="#ffa07a" stroke="none"/>
<path d="M1189.5,245.0 L1192.0,239.7 L1195.0,244.0 Z" fill="#ffa07a" stroke="none"/>
<path d="M1192.5,247.0 L1194.9,252.0 L1197.5,246.0 Z" fill="#ffa07a" stroke="none"/>
<path d="M1106.5,378.0 L1108.8,376.8 L1114.6,353.4 L1119.0,335.8 L1108.0,340.0 Z" fill="#ffa07a" stroke="none"/>
<path d="M1118.0,312.0 L1120.5,304.1 L1126.3,298.3 L1124.0,312.0 Z" fill="#ffa07a" stroke="none"/>
<path d="M1212.0,210.0 L1215.0,203.0 L1218.5,200.5 L1220.0,208.0 Z" fill="#ffa07a" stroke="none"/>
<path d="M1106.8,363.5 C1107.0,361.8 1107.7,356.1 1108.2,353.0 C1108.7,349.9 1109.1,347.2 1109.6,345.0 C1110.1,342.8 1110.2,341.6 1111.0,339.7 C1111.8,337.8 1113.6,335.8 1114.6,333.9 C1115.6,331.9 1116.3,330.2 1117.0,328.0 C1117.7,325.8 1118.3,322.9 1119.0,320.7 C1119.7,318.5 1120.3,316.7 1121.0,315.0 C1121.7,313.3 1122.6,311.4 1123.4,310.5 C1124.2,309.6 1125.0,308.9 1126.0,309.5 C1127.0,310.1 1128.0,315.3 1129.2,314.1 C1130.4,312.9 1132.2,306.0 1133.4,302.5 C1134.6,299.0 1135.7,294.7 1136.5,292.9 C1137.3,291.1 1137.1,290.9 1138.0,291.5 C1138.9,292.1 1140.8,295.9 1142.1,296.7 C1143.4,297.4 1144.5,295.9 1145.7,296.0 C1146.9,296.1 1148.4,299.3 1149.4,297.4 C1150.5,295.5 1151.2,288.7 1152.0,284.6 C1152.8,280.5 1153.7,275.0 1154.4,272.9 C1155.1,270.8 1155.4,271.2 1156.3,272.0 C1157.2,272.8 1158.6,276.8 1159.8,277.8 C1161.0,278.9 1162.6,278.8 1163.7,278.3 C1164.8,277.8 1165.6,276.6 1166.6,274.9 C1167.6,273.2 1168.5,270.1 1169.5,268.0 C1170.5,265.9 1171.8,263.2 1172.9,262.2 C1174.0,261.2 1175.2,262.5 1176.3,262.2 C1177.4,261.9 1178.3,261.0 1179.3,260.2 C1180.3,259.4 1181.1,257.9 1182.2,257.3 C1183.3,256.7 1184.8,257.6 1186.1,256.3 C1187.4,255.0 1188.8,251.3 1190.0,249.5 C1191.2,247.7 1192.3,246.7 1193.4,245.6 C1194.5,244.5 1195.6,244.5 1196.8,242.7 C1198.0,240.9 1199.3,237.8 1200.7,234.9 C1202.1,232.0 1203.5,228.1 1205.0,225.1 C1206.5,222.1 1208.0,219.9 1209.5,217.1 C1211.0,214.3 1212.6,210.7 1214.0,208.5 C1215.4,206.3 1216.6,204.2 1217.9,203.8 C1219.2,203.4 1220.7,206.4 1221.8,206.2 C1222.9,206.0 1223.6,204.5 1224.8,202.8 C1226.0,201.1 1227.4,197.5 1228.7,196.0 C1230.0,194.5 1231.3,195.0 1232.6,194.0 C1233.9,193.0 1235.2,191.4 1236.5,190.1 C1237.8,188.8 1239.1,187.3 1240.4,186.2 C1241.7,185.1 1243.0,184.4 1244.3,183.3 C1245.6,182.2 1246.8,181.1 1248.2,179.4 C1249.6,177.7 1250.9,175.4 1252.4,173.2 C1253.9,170.9 1255.7,168.1 1257.3,165.9 C1258.9,163.7 1260.6,161.8 1262.2,159.8 C1263.8,157.8 1265.5,155.8 1267.1,153.7 C1268.7,151.6 1270.4,148.9 1272.0,147.0 C1273.6,145.1 1274.8,143.6 1276.8,142.1 C1278.8,140.6 1282.1,139.3 1284.1,137.8 C1286.1,136.3 1287.0,134.5 1289.0,132.9 C1291.0,131.3 1294.5,129.4 1296.3,128.0 C1298.1,126.6 1298.0,126.3 1300.0,124.6 C1302.0,122.9 1305.4,120.0 1308.1,118.0 C1310.8,116.0 1313.3,114.4 1316.3,112.4 C1319.3,110.4 1322.8,108.5 1326.0,105.9 C1329.2,103.3 1332.5,99.5 1335.8,96.9 C1339.0,94.3 1342.2,92.4 1345.5,90.4 C1348.8,88.4 1352.0,86.3 1355.3,84.7 C1358.5,83.1 1362.0,81.9 1365.0,80.7 C1368.0,79.5 1369.9,78.6 1373.2,77.4 C1376.5,76.2 1381.1,74.5 1384.6,73.3 C1388.1,72.1 1390.8,71.0 1394.3,70.1 C1397.8,69.1 1401.9,68.4 1405.7,67.6 C1409.5,66.8 1413.0,66.0 1417.1,65.2 C1421.2,64.4 1426.3,62.9 1430.1,62.8 C1433.9,62.6 1436.9,64.0 1440.0,64.3 C1443.1,64.5 1445.7,64.5 1448.5,64.3 C1451.3,64.1 1454.0,62.9 1457.1,63.0 C1460.1,63.1 1463.5,64.6 1466.8,64.9 C1470.0,65.2 1473.3,64.5 1476.6,64.9 C1479.8,65.3 1483.0,66.7 1486.3,67.3 C1489.5,67.9 1492.4,67.9 1496.1,68.5 C1499.8,69.1 1504.6,70.0 1508.3,71.0 C1512.0,72.0 1514.8,73.7 1518.0,74.6 C1521.2,75.5 1524.5,75.8 1527.8,76.5 C1531.1,77.2 1534.3,78.0 1537.6,78.9 C1540.8,79.8 1544.0,81.0 1547.3,82.0 C1550.5,83.0 1553.8,84.1 1557.1,85.0 C1560.3,85.9 1563.5,86.5 1566.8,87.4 C1570.0,88.3 1573.3,89.5 1576.6,90.5 C1579.8,91.5 1583.0,92.5 1586.3,93.5 C1589.5,94.5 1593.3,95.8 1596.1,96.6 C1598.8,97.4 1601.3,98.0 1602.8,98.4 C1604.3,98.8 1604.6,99.0 1605.0,99.1" stroke="#ff0000" stroke-width="6.0"/>
<path d="M1106.4,330.4 L1122.0,318.4" stroke="#ff0000" stroke-width="6.0" stroke-linecap="butt"/>
<path d="M1108.2,531.0 C1108.3,530.4 1108.2,531.0 1108.6,527.6 C1108.9,524.2 1109.6,515.1 1110.3,510.5 C1111.0,505.9 1111.5,501.2 1112.5,499.7 C1113.5,498.2 1115.1,501.3 1116.5,501.4 C1117.9,501.5 1119.8,500.1 1121.1,500.3 C1122.4,500.5 1123.3,501.6 1124.5,502.6 C1125.7,503.6 1127.2,506.1 1128.5,506.5 C1129.8,506.9 1131.2,505.4 1132.4,504.8 C1133.6,504.2 1134.7,503.8 1135.9,502.6 C1137.1,501.4 1138.3,497.3 1139.8,497.4 C1141.3,497.5 1143.6,503.0 1145.0,503.1 C1146.4,503.2 1147.3,500.8 1148.4,498.0 C1149.5,495.2 1150.6,486.4 1151.8,486.1 C1153.0,485.8 1154.5,495.7 1155.8,496.3 C1157.1,496.9 1158.5,489.5 1159.8,489.5 C1161.1,489.5 1162.4,495.9 1163.7,496.3 C1165.0,496.7 1166.5,493.5 1167.7,491.7 C1168.9,489.9 1170.3,488.1 1171.1,485.5 C1171.9,482.9 1171.9,480.3 1172.3,476.4 C1172.7,472.5 1172.8,465.6 1173.2,462.0 C1173.6,458.4 1173.9,457.0 1174.5,455.0 C1175.1,453.0 1176.1,453.4 1176.8,450.2 C1177.5,447.0 1178.0,439.9 1178.5,436.0 C1179.0,432.1 1179.2,427.8 1179.8,426.8 C1180.4,425.8 1181.2,425.5 1182.0,429.8 C1182.8,434.1 1183.9,453.4 1184.9,452.4 C1185.9,451.4 1186.8,429.6 1187.8,423.9 C1188.8,418.2 1189.6,417.6 1190.7,418.0 C1191.8,418.4 1193.2,428.4 1194.4,426.1 C1195.6,423.8 1196.7,406.2 1198.0,404.1 C1199.3,402.0 1201.1,415.5 1202.4,413.7 C1203.8,411.9 1205.1,393.9 1206.1,393.2 C1207.1,392.5 1207.4,404.6 1208.3,409.3 C1209.2,414.1 1210.2,421.2 1211.2,421.7 C1212.2,422.2 1213.3,416.2 1214.1,412.2 C1214.9,408.2 1215.0,400.9 1216.0,397.5 C1217.0,394.1 1218.9,394.8 1220.2,392.1 C1221.5,389.4 1222.6,384.7 1223.8,381.3 C1225.0,377.9 1226.1,372.1 1227.4,371.5 C1228.8,370.9 1230.6,377.7 1231.9,377.8 C1233.2,377.9 1234.5,375.7 1235.4,372.4 C1236.3,369.1 1236.6,363.5 1237.2,358.1 C1237.8,352.7 1238.4,346.5 1239.0,340.2 C1239.6,333.9 1240.0,325.3 1240.8,320.4 C1241.5,315.5 1242.3,315.2 1243.5,310.6 C1244.7,306.0 1246.5,298.8 1248.2,292.8 C1249.9,286.8 1251.7,278.9 1253.4,274.6 C1255.1,270.3 1256.8,270.3 1258.6,266.8 C1260.3,263.3 1261.7,259.0 1263.9,253.8 C1266.1,248.6 1269.1,241.2 1271.7,235.5 C1274.3,229.8 1277.1,225.5 1279.5,219.9 C1281.9,214.3 1283.8,206.5 1286.0,201.7 C1288.2,196.9 1290.1,195.2 1292.5,191.3 C1294.9,187.4 1298.0,182.2 1300.3,178.2 C1302.5,174.2 1304.3,170.5 1306.0,167.5 C1307.7,164.5 1309.5,162.3 1310.7,160.0 C1311.9,157.7 1311.9,156.4 1313.4,153.7 C1314.9,151.0 1318.2,146.2 1319.5,143.9 C1320.8,141.6 1319.5,142.6 1321.1,140.0 C1322.7,137.4 1326.6,132.3 1329.3,128.6 C1332.0,124.9 1335.0,121.2 1337.4,118.0 C1339.8,114.8 1342.0,111.4 1343.9,109.1 C1345.8,106.8 1346.9,106.5 1348.8,104.2 C1350.7,101.9 1352.9,98.1 1355.3,95.3 C1357.7,92.5 1360.7,89.9 1363.4,87.2 C1366.1,84.5 1368.5,82.0 1371.5,79.0 C1374.5,76.0 1378.0,72.0 1381.3,69.3 C1384.6,66.6 1387.6,64.8 1391.1,62.8 C1394.6,60.8 1398.6,58.9 1402.4,57.1 C1406.2,55.3 1409.7,53.3 1413.8,52.2 C1417.9,51.1 1422.5,51.3 1426.8,50.6 C1431.1,49.9 1436.0,48.5 1439.8,48.1 C1443.6,47.7 1446.5,48.5 1449.8,48.4 C1453.1,48.2 1456.2,47.2 1459.5,47.2 C1462.8,47.2 1466.0,48.0 1469.3,48.2 C1472.5,48.4 1476.4,48.1 1479.0,48.4 C1481.6,48.7 1483.1,50.0 1485.1,50.2 C1487.1,50.4 1489.0,49.4 1491.2,49.6 C1493.4,49.8 1495.7,51.1 1498.5,51.5 C1501.3,51.9 1505.0,51.6 1508.3,52.1 C1511.5,52.6 1514.8,53.8 1518.0,54.5 C1521.2,55.2 1524.5,55.5 1527.8,56.3 C1531.1,57.1 1534.3,58.4 1537.6,59.4 C1540.8,60.4 1544.0,61.3 1547.3,62.4 C1550.5,63.5 1553.8,64.8 1557.1,66.1 C1560.3,67.4 1563.5,69.1 1566.8,70.4 C1570.0,71.7 1573.3,72.7 1576.6,74.0 C1579.8,75.3 1583.0,77.1 1586.3,78.3 C1589.5,79.5 1593.3,80.4 1596.1,81.3 C1598.8,82.2 1601.3,83.2 1602.8,83.8 C1604.3,84.4 1604.6,84.6 1605.0,84.8" stroke="#0000ff" stroke-width="6.0"/>
</g>
<g stroke="#000" stroke-width="2.9" fill="none" stroke-linecap="square">
<path d="M110.4,1.3 H1604.6 M110.4,530.8 H1604.6"/>
<path d="M110.4,1.3 V530.6"/>
<path d="M608.4,1.3 V530.6"/>
<path d="M1106.4,1.3 V530.6"/>
<path d="M1604.4,1.3 V530.6"/>
</g>
<g font-size="29" fill="#000">
<text x="54.1" y="541.8">10</text><text x="85.6" y="529.1" font-size="20">1</text>
<text x="54.1" y="381.5">10</text><text x="85.6" y="368.8" font-size="20">2</text>
<text x="54.1" y="221.1">10</text><text x="85.6" y="208.4" font-size="20">3</text>
<text x="54.1" y="60.8">10</text><text x="85.6" y="48.1" font-size="20">4</text>
<text x="110.4" y="565.6" text-anchor="middle">0</text>
<text x="214.2" y="565.6" text-anchor="middle">5</text>
<text x="317.9" y="565.6" text-anchor="middle">10</text>
<text x="421.6" y="565.6" text-anchor="middle">15</text>
<text x="525.4" y="565.6" text-anchor="middle">20</text>
<text x="359.8" y="608.5" text-anchor="middle">Energy [eV]</text>
<text x="608.4" y="565.6" text-anchor="middle">0</text>
<text x="712.1" y="565.6" text-anchor="middle">5</text>
<text x="815.9" y="565.6" text-anchor="middle">10</text>
<text x="919.6" y="565.6" text-anchor="middle">15</text>
<text x="1023.4" y="565.6" text-anchor="middle">20</text>
<text x="857.8" y="608.5" text-anchor="middle">Energy [eV]</text>
<text x="1106.4" y="565.6" text-anchor="middle">0</text>
<text x="1210.2" y="565.6" text-anchor="middle">5</text>
<text x="1313.9" y="565.6" text-anchor="middle">10</text>
<text x="1417.7" y="565.6" text-anchor="middle">15</text>
<text x="1521.4" y="565.6" text-anchor="middle">20</text>
<text x="1355.8" y="608.5" text-anchor="middle">Energy [eV]</text>
</g>
<text transform="translate(27.3,415.6) rotate(-90)" font-size="29.3">Conductivity [Ω<tspan font-size="20" dy="-12.7">−1</tspan><tspan dy="12.7">.cm</tspan><tspan font-size="20" dy="-12.7">−1</tspan><tspan dy="12.7">]</tspan></text>
<g font-size="42" font-weight="bold">
<text transform="translate(141.0,63.8) scale(0.89,1)" font-size="43.5">a</text><text transform="translate(637.6,63.4) scale(1.08,1)" font-size="41">b</text><text x="1135.7" y="63.4">c</text>
</g>
<g font-size="25" text-anchor="middle">
<text x="445.2" y="229.6">MgO</text><text x="444.8" y="259.9">470 GPa - 12,000 K</text>
<text x="939.3" y="229.6">SiO<tspan font-size="17" dy="8.5">2</tspan></text><text x="939.2" y="259.9">500 GPa - 9000 K</text>
<text x="1438.9" y="229.6">MgSiO<tspan font-size="17" dy="8.5">3</tspan></text><text x="1438.4" y="259.9">240 GPa - 7000 K</text>
</g>
<g font-size="25">
<path d="M391.0,458.9 H461.6" stroke="#ff0000" stroke-width="5.9"/>
<path d="M391.0,492.9 H461.6" stroke="#0000ff" stroke-width="5.9"/>
<text x="473.3" y="467.9">Liquid</text><text x="473.3" y="502.2">Solid B2</text>
<path d="M848.1,458.9 H918.9" stroke="#ff0000" stroke-width="5.9"/>
<path d="M848.1,492.9 H918.9" stroke="#0000ff" stroke-width="5.9"/>
<text x="931.4" y="467.5">Liquid</text><text x="931.4" y="501.8">Solid Pyrite</text>
<path d="M1372.0,458.9 H1442.7" stroke="#ff0000" stroke-width="5.9"/>
<path d="M1372.0,492.9 H1442.7" stroke="#0000ff" stroke-width="5.9"/>
<text x="1455.2" y="465.7">Liquid</text><text x="1455.2" y="500.0">Solid PPV</text>
</g>
</svg></body></html>
